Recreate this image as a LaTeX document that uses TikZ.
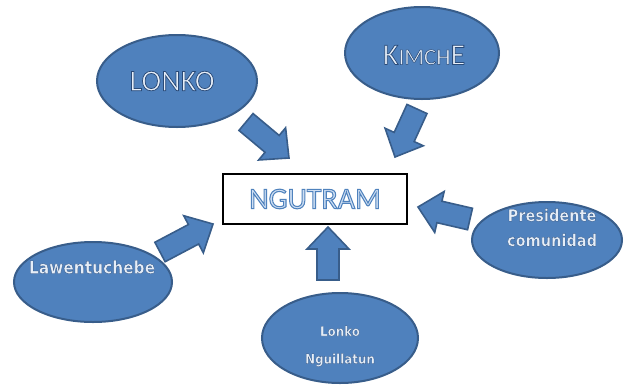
\documentclass[tikz,border=0pt]{standalone}
\usepackage{fontspec}
\setmainfont{Carlito}
\newfontfamily\outfont{Carlito}[FakeBold=2.5]
\newfontfamily\boxfont{Carlito}[FakeBold=3.5]
\newfontfamily\roundfont{DejaVu Sans}[FakeStretch=0.88,FakeBold=1.5]
\usetikzlibrary{calc,shapes.geometric}
\definecolor{ellfill}{HTML}{4F81BD}
\definecolor{elldraw}{HTML}{385D8A}
\definecolor{txtlight}{HTML}{E6EEF8}
\definecolor{ngutxt}{HTML}{CFDFF3}
\newcommand\arrSW{11pt}
\newcommand\arrHW{21pt}
\newcommand\arrHL{22pt}
\newcommand\darkstroke{\special{pdf:literal direct 0.16 0.29 0.47 RG}}
\newcommand\bluestroke{\special{pdf:literal direct 0.31 0.51 0.74 RG}}
\tikzset{
  bubble/.style={ellipse, draw=elldraw, fill=ellfill, line width=2pt, inner sep=0pt},
  bigtxt/.style={text=txtlight, font=\outfont\fontsize{30}{30}\selectfont, inner sep=0pt},
  roundtxt/.style={text=txtlight, font=\roundfont\bfseries\fontsize{#1}{#1}\selectfont, inner sep=0pt, align=center},
  mainbox/.style={rectangle, draw=black, line width=2.4pt, fill=white, minimum width=183.6pt, minimum height=49.6pt,
    text=ngutxt, font=\boxfont\fontsize{30}{30}\selectfont},
  blockarrow/.style={draw=elldraw, fill=ellfill, line width=1.6pt, line join=miter,
    to path={let \p1=(\tikztostart), \p2=(\tikztotarget),
      \n1={atan2(\y2-\y1,\x2-\x1)},
      \n2={veclen(\x2-\x1,\y2-\y1)-\arrHL}
      in ($(\p1)+(\n1+90:\arrSW)$)
      -- ($(\p1)+(\n1:\n2)+(\n1+90:\arrSW)$)
      -- ($(\p1)+(\n1:\n2)+(\n1+90:\arrHW)$)
      -- (\p2)
      -- ($(\p1)+(\n1:\n2)+(\n1-90:\arrHW)$)
      -- ($(\p1)+(\n1:\n2)+(\n1-90:\arrSW)$)
      -- ($(\p1)+(\n1-90:\arrSW)$)
      -- cycle}}
}
\begin{document}
\begin{tikzpicture}[x=1pt,y=-1pt]
\useasboundingbox (0,0) rectangle (624,384);
% ellipses
\node[bubble, minimum width=160pt, minimum height=92pt] (lonko) at (177,81) {};
\node[bubble, minimum width=154pt, minimum height=92pt] (kimche) at (422,53) {};
\node[bubble, minimum width=158pt, minimum height=80pt] (law) at (93,282) {};
\node[bubble, minimum width=150pt, minimum height=76pt] (pres) at (547,240) {};
\node[bubble, minimum width=156pt, minimum height=90pt] (ngui) at (340,338) {};
% labels
\node[bigtxt] (lonkotxt) at (172,81) {\darkstroke LONKO};
\node[bigtxt] (kimchetxt) at (424,55) {\darkstroke K{\fontsize{23}{23}\selectfont IMCH}E};
\node[roundtxt=17.5] (lawtxt) at (92,267) {\darkstroke Lawentuchebe};
\node[roundtxt=16.5] (prestxt1) at (552,215) {\darkstroke Presidente};
\node[roundtxt=16.5] (prestxt2) at (552,240) {\darkstroke comunidad};
\node[roundtxt=13.5] (nguitxt1) at (340,331) {\darkstroke Lonko};
\node[roundtxt=13.5] (nguitxt2) at (340,360) {\darkstroke Nguillatun};
% central box
\node[mainbox] (ngutram) at (315,199) {\bluestroke NGUTRAM};
% arrow end points
\coordinate (a1s) at (246,122); \coordinate (a1e) at (289,158);
\coordinate (a2s) at (417,109); \coordinate (a2e) at (395,157);
\coordinate (a3s) at (160,252); \coordinate (a3e) at (213,224);
\coordinate (a4s) at (470,219); \coordinate (a4e) at (418,207);
\coordinate (a5s) at (328,280); \coordinate (a5e) at (328,227);
\draw[blockarrow] (a1s) to (a1e);
\draw[blockarrow] (a2s) to (a2e);
\draw[blockarrow] (a3s) to (a3e);
\draw[blockarrow] (a4s) to (a4e);
\draw[blockarrow] (a5s) to (a5e);
\end{tikzpicture}
\end{document}
